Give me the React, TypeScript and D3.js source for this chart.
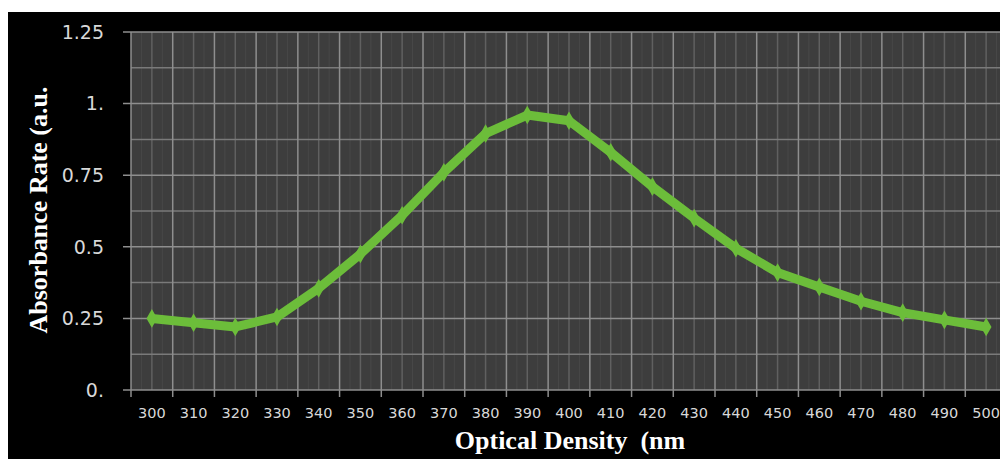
import React from "react";
import * as d3 from "d3";

// wavelengths (nm) and absorbance readings
const wavelengths = [300, 310, 320, 330, 340, 350, 360, 370, 380, 390, 400, 410, 420, 430, 440, 450, 460, 470, 480, 490, 500];
const absorbance = [0.25, 0.235, 0.22, 0.255, 0.355, 0.475, 0.61, 0.76, 0.895, 0.96, 0.94, 0.83, 0.71, 0.6, 0.495, 0.41, 0.36, 0.31, 0.27, 0.245, 0.22];
const yTicks = [0, 0.25, 0.5, 0.75, 1, 1.25];
const yTickLabels = ["0.", "0.25", "0.5", "0.75", "1.", "1.25"];
const yMinor = [0.125, 0.375, 0.625, 0.875, 1.125];

const W = 1000;
const H = 459;
const left = 131;
const right = 1007;
const top = 32;
const bottom = 390;
const green = "#6cbd3a";

export default function App() {
  const x = d3.scaleBand<number>().domain(wavelengths).range([left, right]).padding(0);
  const y = d3.scaleLinear().domain([0, 1.25]).range([bottom, top]);
  const bw = x.bandwidth();
  const cx = (d: number) => (x(d) as number) + bw / 2;

  const line = d3
    .line<number>()
    .x((_, i) => cx(wavelengths[i]))
    .y((d) => y(d));

  const diamond = d3.symbol().type(d3.symbolDiamond).size(100)();

  // band boundaries (major verticals + ticks)
  const bounds = wavelengths.map((w) => x(w) as number).concat([right]);

  return (
    <svg
      width={W}
      height={H}
      style={{ position: "absolute", left: 0, top: 0, display: "block" }}
    >
      <rect x={0} y={0} width={W} height={H} fill="#fff" />
      <rect x={8} y={12} width={W - 8} height={H - 12} fill="#000" />
      <rect x={left} y={top} width={right - left} height={bottom - top} fill="#3d3d3d" />

      {/* faint lines inside each band */}
      {wavelengths.map((w) => (
        <g key={"q" + w}>
          <line x1={(x(w) as number) + bw * 0.25} x2={(x(w) as number) + bw * 0.25} y1={top} y2={bottom} stroke="#484848" strokeWidth={1} />
          <line x1={(x(w) as number) + bw * 0.75} x2={(x(w) as number) + bw * 0.75} y1={top} y2={bottom} stroke="#484848" strokeWidth={1} />
          <line x1={cx(w)} x2={cx(w)} y1={top} y2={bottom} stroke="#606060" strokeWidth={1.5} />
        </g>
      ))}

      {yMinor.map((v) => (
        <line key={"ym" + v} x1={left} x2={right} y1={y(v)} y2={y(v)} stroke="#7a7a7a" strokeWidth={1.5} />
      ))}

      {bounds.map((b, i) => (
        <g key={"b" + i}>
          <line x1={b} x2={b} y1={top} y2={bottom} stroke="#8e8e8e" strokeWidth={1.5} />
          <line x1={b} x2={b} y1={bottom} y2={bottom + 7} stroke="#8e8e8e" strokeWidth={1.5} />
        </g>
      ))}

      {yTicks.map((v, i) => (
        <g key={"y" + v}>
          <line x1={left - 8} x2={right} y1={y(v)} y2={y(v)} stroke="#8e8e8e" strokeWidth={1.5} />
          <text
            x={104}
            y={y(v)}
            dy="0.36em"
            textAnchor="end"
            fill="#d8d8d8"
            fontFamily="DejaVu Sans, sans-serif"
            fontSize={19}
          >
            {yTickLabels[i]}
          </text>
        </g>
      ))}

      {wavelengths.map((w) => (
        <text
          key={"xl" + w}
          x={cx(w)}
          y={418}
          textAnchor="middle"
          fill="#d8d8d8"
          fontFamily="DejaVu Sans, sans-serif"
          fontSize={14.5}
        >
          {w}
        </text>
      ))}

      <path d={line(absorbance) || ""} fill="none" stroke={green} strokeWidth={9} strokeLinejoin="round" />
      {absorbance.map((v, i) => (
        <path key={"m" + i} d={diamond || ""} transform={`translate(${cx(wavelengths[i])},${y(v)})`} fill={green} />
      ))}

      <text
        x={570}
        y={449}
        textAnchor="middle"
        fill="#fff"
        fontFamily="Liberation Serif, serif"
        fontWeight="bold"
        fontSize={26}
        style={{ whiteSpace: "pre" }}
      >
        {"Optical Density  (nm"}
      </text>
      <text
        transform="translate(47,210) rotate(-90)"
        textAnchor="middle"
        fill="#fff"
        fontFamily="Liberation Serif, serif"
        fontWeight="bold"
        fontSize={26}
      >
        Absorbance Rate (a.u.
      </text>
    </svg>
  );
}
